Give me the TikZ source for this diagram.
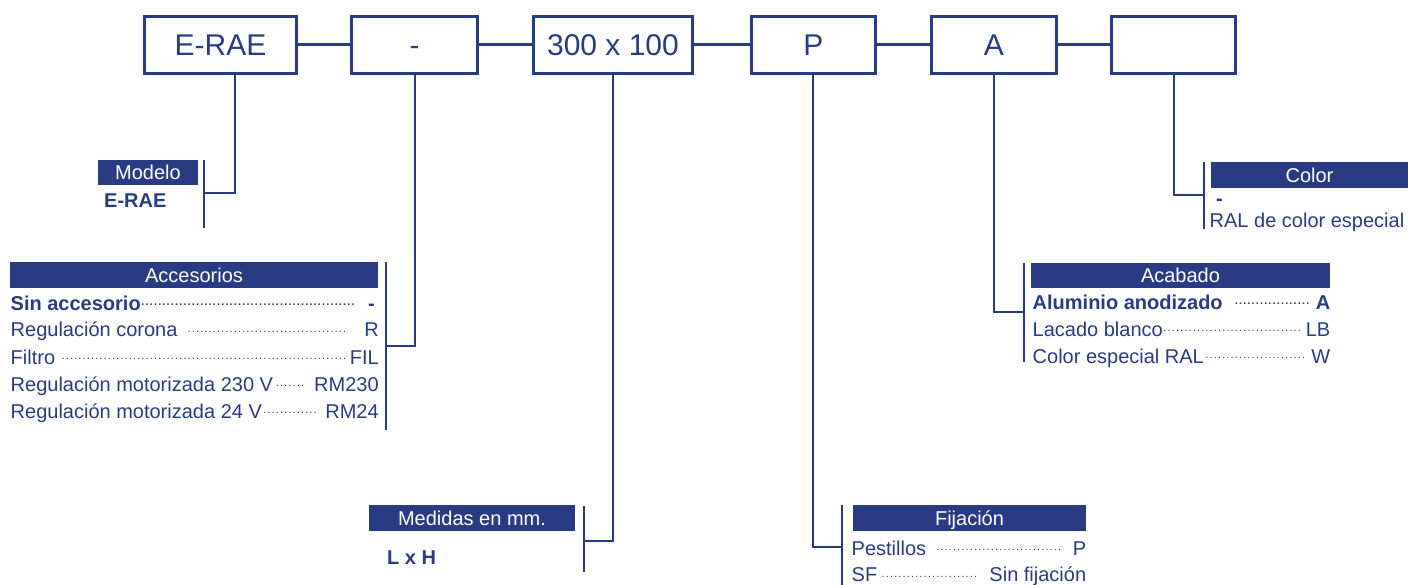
\documentclass[tikz,border=0pt]{standalone}
\usepackage{fontspec}
\setmainfont{Liberation Sans}
\definecolor{navy}{RGB}{41,59,131}
\newcommand\leaderdots{\leaders\hbox to 4.2pt{\hss\raisebox{4.5pt}{\fontsize{11}{11}\selectfont.}\hss}\hfill}
\begin{document}
\begin{tikzpicture}[x=1pt,y=-1pt,
  every node/.style={font=\fontsize{20}{24}\selectfont, text=navy},
  topbox/.style={draw=navy, line width=3pt, minimum height=57pt, inner sep=0pt,
     text height=21.5pt, text depth=0pt, font=\fontsize{30}{34}\selectfont},
  hdr/.style={fill=navy, text=white, inner sep=0pt, text height=14.3pt, text depth=0pt},
  link/.style={draw=navy, line width=3pt},
  stemline/.style={draw=navy, line width=2pt},
  row/.style={anchor=base west, inner sep=0pt}]
\useasboundingbox (0,0) rectangle (1408,585);

% top boxes
\node[topbox, minimum width=152pt] (b1) at (220.5,45) {E-RAE};
\node[topbox, minimum width=126pt] (b2) at (414.5,45) {-};
\node[topbox, minimum width=159pt] (b3) at (613,45) {300 x 100};
\node[topbox, minimum width=124pt] (b4) at (813.4,45) {P};
\node[topbox, minimum width=124.6pt] (b5) at (993.8,45) {A};
\node[topbox, minimum width=124pt] (b6) at (1173.5,45) {};
\draw[link] (b1.east) -- (b2.west);
\draw[link] (b2.east) -- (b3.west);
\draw[link] (b3.east) -- (b4.west);
\draw[link] (b4.east) -- (b5.west);
\draw[link] (b5.east) -- (b6.west);

% Modelo
\node[hdr, minimum width=100pt, minimum height=25pt] (hm) at (148,172.5) {Modelo};
\node[row] (m1) at (104,208) {\bfseries E-RAE};
\coordinate (mt) at (204,160); \coordinate (mb) at (204,228); \coordinate (me) at (204,193);
\coordinate (mk) at (235,193);
\draw[stemline] (mt) -- (mb);
\draw[stemline] (b1.south -| mk) -- (mk) -- (me);

% Accesorios
\node[hdr, minimum width=368pt, minimum height=26pt] (ha) at (194,275) {Accesorios};
\node[row] (a1) at (10.5,310) {\hbox to 368pt{\bfseries Sin accesorio\leaderdots\hspace{12pt}-\hspace{4pt}}};
\node[row] (a2) at (10.5,337) {\hbox to 368pt{Regulación corona\hspace{6pt}\leaderdots\hspace{14pt}R}};
\node[row] (a3) at (10.5,364) {\hbox to 368pt{Filtro\hspace{4pt}\leaderdots\hspace{3pt}FIL}};
\node[row] (a4) at (10.5,391) {\hbox to 368pt{Regulación motorizada 230 V\leaderdots\hspace{6pt}RM230}};
\node[row] (a5) at (10.5,418) {\hbox to 368pt{Regulación motorizada 24 V\leaderdots\hspace{6pt}RM24}};
\coordinate (at) at (386,262); \coordinate (ab) at (386,430); \coordinate (ae) at (386,346);
\draw[stemline] (at) -- (ab);
\draw[stemline] (b2.south) |- (ae);

% Medidas
\node[hdr, minimum width=206pt, minimum height=26pt] (hd) at (472,518) {Medidas en mm.};
\node[row] (d1) at (387,564) {\bfseries L x H};
\coordinate (dt) at (584,506); \coordinate (db) at (584,572); \coordinate (de) at (584,541);
\draw[stemline] (dt) -- (db);
\draw[stemline] (b3.south) |- (de);

% Fijacion
\node[hdr, minimum width=233pt, minimum height=26pt] (hf) at (969.5,518) {Fijación};
\node[row] (f1) at (851.5,555) {\hbox to 234.5pt{Pestillos\hspace{8pt}\leaderdots\hspace{8pt}P}};
\node[row] (f2) at (851.5,581.5) {\hbox to 234.5pt{SF\leaderdots\hspace{10pt}Sin fijación}};
\coordinate (ft) at (842,505); \coordinate (fb) at (842,585); \coordinate (fe) at (842,547);
\draw[stemline] (ft) -- (fb);
\draw[stemline] (b4.south) |- (fe);

% Acabado
\node[hdr, minimum width=299pt, minimum height=25pt] (hb) at (1180.5,275.5) {Acabado};
\node[row] (c1) at (1032.5,309) {\hbox to 297.5pt{\bfseries Aluminio anodizado\hspace{9pt}\leaderdots\hspace{4pt}A}};
\node[row] (c2) at (1032.5,336) {\hbox to 297.5pt{Lacado blanco\leaderdots\hspace{4pt}LB}};
\node[row] (c3) at (1032.5,363) {\hbox to 297.5pt{Color especial RAL\leaderdots\hspace{4pt}W}};
\coordinate (ct) at (1024,263); \coordinate (cb) at (1024,362); \coordinate (ce) at (1024,312);
\draw[stemline] (ct) -- (cb);
\draw[stemline] (b5.south) |- (ce);

% Color
\node[hdr, minimum width=197pt, minimum height=26pt] (hc) at (1309.5,175) {Color};
\node[row] (k1) at (1216,206) {\bfseries -};
\node[row] (k2) at (1209.5,228) {RAL de color especial};
\coordinate (kt) at (1204,162); \coordinate (kb) at (1204,229); \coordinate (ke) at (1204,195);
\draw[stemline] (kt) -- (kb);
\draw[stemline] (b6.south) |- (ke);
\end{tikzpicture}
\end{document}
